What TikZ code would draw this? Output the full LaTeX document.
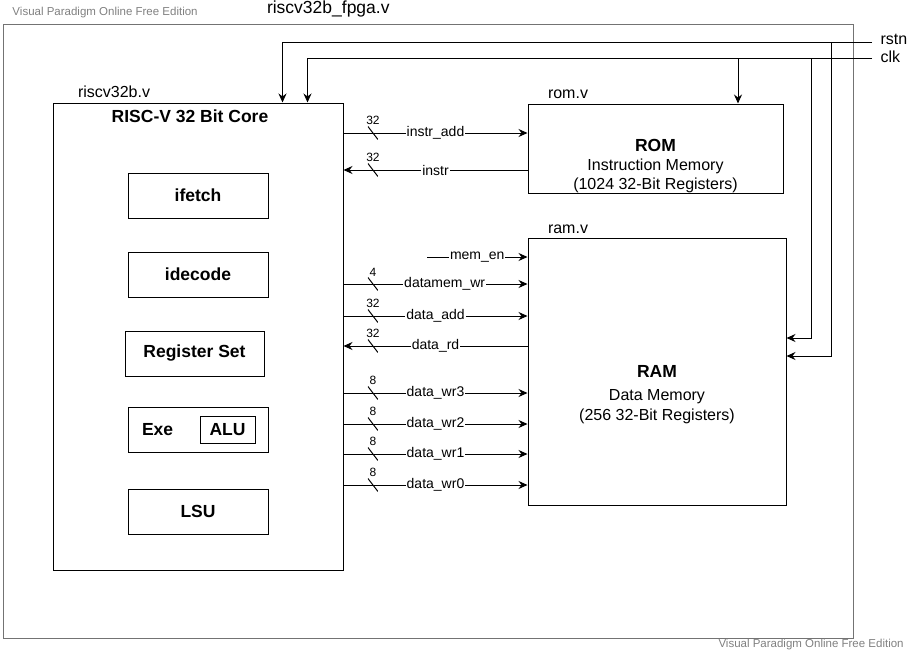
\documentclass[tikz,border=0pt]{standalone}
\usepackage{fontspec}
\setmainfont{Liberation Sans}
\usetikzlibrary{arrows.meta, positioning, calc}

\begin{document}
\begin{tikzpicture}[
    x=1pt, y=-1pt, line width=1pt,
    >={Stealth[length=9pt, width=8pt, inset=3pt]},
    font=\fontsize{16}{19}\selectfont,
    module/.style={rectangle, draw, inner sep=0pt},
    modname/.style={inner sep=0pt},
    boldtext/.style={font=\fontsize{17.5}{20}\selectfont\bfseries},
    block/.style={rectangle, draw, minimum width=140pt, minimum height=45pt, boldtext},
    memtext/.style={inner sep=0pt, align=center},
    signame/.style={fill=white, inner sep=1pt, font=\fontsize{14}{16}\selectfont},
    buswidth/.style={minimum width=10pt, minimum height=13pt, inner sep=0pt, outer sep=0pt,
        path picture={\draw[-, line width=1pt] (path picture bounding box.north west) -- (path picture bounding box.south east);},
        label={[font=\fontsize{12}{12}\selectfont, inner sep=0pt, label distance=1pt]90:#1}},
    watermark/.style={font=\fontsize{11.5}{13}\selectfont, text=black!50, inner sep=0pt}
]
\useasboundingbox (0,0) rectangle (915,653);

% Modules
\node (fpga) [module, draw=black!55, minimum width=850pt, minimum height=614pt] at (428,331) {};
\node (core) [module, minimum width=290pt, minimum height=467pt] at (198,336.5) {};
\node (rom) [module, minimum width=255pt, minimum height=89pt] at (655.5,148.5) {};
\node (ram) [module, minimum width=258pt, minimum height=267pt] at (657,371.5) {};

% Module names
\node [modname, font=\fontsize{17.5}{20}\selectfont, above right=6pt and 264pt of fpga.north west] {riscv32b\_fpga.v};
\node [modname, above right=4pt and 25pt of core.north west] {riscv32b.v};
\node [modname, above right=4pt and 20pt of rom.north west] {rom.v};
\node [modname, above right=3pt and 20pt of ram.north west] {ram.v};

% Core contents
\node (title) [boldtext, inner sep=0pt, below=7pt of core.north, xshift=-8pt] {RISC-V 32 Bit Core};
\node (ifetch) [block] at (198,195.5) {ifetch};
\node (idecode) [block, below=33pt of ifetch] {idecode};
\node (regset) [block, minimum width=139pt, below=33pt of idecode, xshift=-3.5pt] {Register Set};
\node (exe) [block, below=30.5pt of regset, xshift=3.5pt] {};
\node (exelbl) [boldtext, inner sep=0pt, right=14pt of exe.west] {Exe};
\node (alu) [block, minimum width=55pt, minimum height=27pt, left=13pt of exe.east] {ALU};
\node (lsu) [block, below=35.5pt of exe] {LSU};

% Memory texts
\node (romtxt) [memtext, above=0pt of rom.south] {{\bfseries\fontsize{17.5}{19}\selectfont ROM}\\Instruction Memory\\(1024 32-Bit Registers)};
\node (ramtxt) [memtext, font=\fontsize{16}{20}\selectfont] at ([yshift=-23.5pt]ram.center) {{\bfseries\fontsize{17.5}{19}\selectfont RAM}\\[3pt]Data Memory\\(256 32-Bit Registers)};

% Core <-> ROM
\draw [->] (core.east |- 0,133) -- node[signame] {instr\_add} node[buswidth=32, pos=0.16] {} (rom.west |- 0,133);
\draw [<-] (core.east |- 0,170) -- node[signame] {instr} node[buswidth=32, pos=0.16] {} (rom.west |- 0,170);

% Core <-> RAM
\coordinate (memen) at (427,257);
\draw [->] (memen) -- node[signame] {mem\_en} (ram.west |- memen);
\draw [->] (core.east |- 0,284) -- node[signame, pos=0.55] {datamem\_wr} node[buswidth=4, pos=0.16] {} (ram.west |- 0,284);
\draw [->] (core.east |- 0,316) -- node[signame] {data\_add} node[buswidth=32, pos=0.16] {} (ram.west |- 0,316);
\draw [<-] (core.east |- 0,346) -- node[signame] {data\_rd} node[buswidth=32, pos=0.16] {} (ram.west |- 0,346);
\draw [->] (core.east |- 0,393) -- node[signame] {data\_wr3} node[buswidth=8, pos=0.16] {} (ram.west |- 0,393);
\draw [->] (core.east |- 0,424) -- node[signame] {data\_wr2} node[buswidth=8, pos=0.16] {} (ram.west |- 0,424);
\draw [->] (core.east |- 0,454) -- node[signame] {data\_wr1} node[buswidth=8, pos=0.16] {} (ram.west |- 0,454);
\draw [->] (core.east |- 0,485) -- node[signame] {data\_wr0} node[buswidth=8, pos=0.16] {} (ram.west |- 0,485);

% Clock and reset
\coordinate (rstnin) at (872,42);
\coordinate (clkin) at (872,58);
\node (rstn) [inner sep=0pt, right=8pt of rstnin, yshift=3pt] {rstn};
\node (clk) [inner sep=0pt, right=8pt of clkin, yshift=1pt] {clk};
\coordinate (clkrom) at (738,58);
\coordinate (clkram) at (811,58);
\coordinate (rstnram) at (831,42);
\draw [->] (rstnin) -| ([xshift=230pt]core.north west);
\draw [->] (clkin) -| ([xshift=255pt]core.north west);
\draw [->] (clkrom) -- (rom.north -| clkrom);
\draw [->] (clkram) |- (ram.east |- 0,338);
\draw [->] (rstnram) |- (ram.east |- 0,356);

% Watermarks
\node (wmtop) [watermark, anchor=base west] at (12,16) {Visual Paradigm Online Free Edition};
\node (wmbottom) [watermark, anchor=base west] at (718,647) {Visual Paradigm Online Free Edition};

\end{tikzpicture}
\end{document}
